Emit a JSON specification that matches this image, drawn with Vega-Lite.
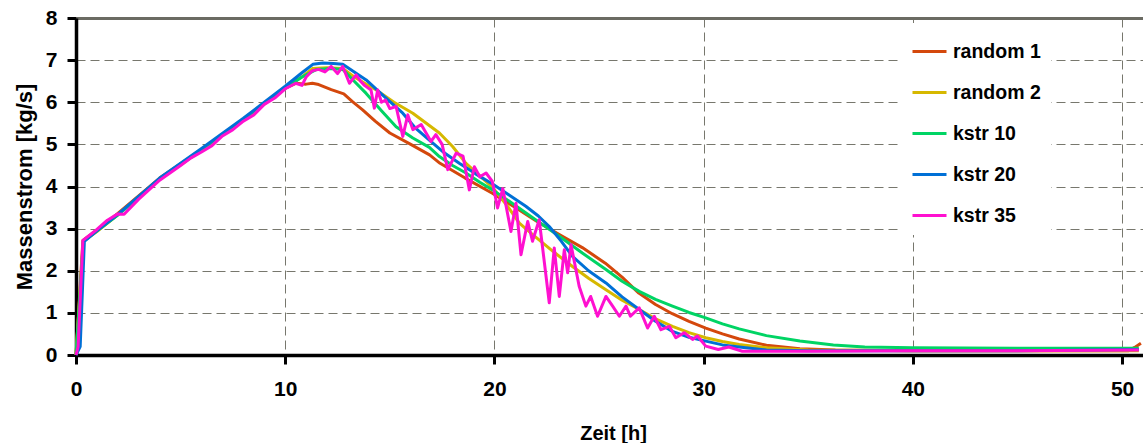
{
  "$schema": "https://vega.github.io/schema/vega-lite/v6.json",
  "width": 1067,
  "height": 337,
  "autosize": {"type": "none"},
  "padding": {"left": 76, "top": 18, "right": 0, "bottom": 88},
  "background": "white",
  "config": {"view": {"stroke": null}},
  "data": {
    "values": [
      {"serie": "random 1", "t": 0, "v": 0},
      {"serie": "random 1", "t": 0.33, "v": 2.72},
      {"serie": "random 1", "t": 1, "v": 2.97},
      {"serie": "random 1", "t": 2, "v": 3.36},
      {"serie": "random 1", "t": 4, "v": 4.2},
      {"serie": "random 1", "t": 6, "v": 4.88},
      {"serie": "random 1", "t": 8, "v": 5.6},
      {"serie": "random 1", "t": 9, "v": 5.98},
      {"serie": "random 1", "t": 10, "v": 6.33},
      {"serie": "random 1", "t": 10.5, "v": 6.45},
      {"serie": "random 1", "t": 11, "v": 6.43},
      {"serie": "random 1", "t": 11.3, "v": 6.45},
      {"serie": "random 1", "t": 11.6, "v": 6.42},
      {"serie": "random 1", "t": 12.2, "v": 6.3},
      {"serie": "random 1", "t": 12.8, "v": 6.2},
      {"serie": "random 1", "t": 13.2, "v": 6.02},
      {"serie": "random 1", "t": 13.7, "v": 5.82},
      {"serie": "random 1", "t": 14.3, "v": 5.55},
      {"serie": "random 1", "t": 15, "v": 5.27},
      {"serie": "random 1", "t": 16, "v": 5.0},
      {"serie": "random 1", "t": 16.9, "v": 4.75},
      {"serie": "random 1", "t": 17.4, "v": 4.55},
      {"serie": "random 1", "t": 18.6, "v": 4.2},
      {"serie": "random 1", "t": 19.9, "v": 3.84},
      {"serie": "random 1", "t": 21, "v": 3.5},
      {"serie": "random 1", "t": 22, "v": 3.18},
      {"serie": "random 1", "t": 23.1, "v": 2.86},
      {"serie": "random 1", "t": 24.2, "v": 2.55},
      {"serie": "random 1", "t": 25.3, "v": 2.18},
      {"serie": "random 1", "t": 26.1, "v": 1.85},
      {"serie": "random 1", "t": 26.9, "v": 1.47},
      {"serie": "random 1", "t": 27.7, "v": 1.2},
      {"serie": "random 1", "t": 28.5, "v": 0.98},
      {"serie": "random 1", "t": 29.3, "v": 0.8},
      {"serie": "random 1", "t": 30.1, "v": 0.64},
      {"serie": "random 1", "t": 30.9, "v": 0.5},
      {"serie": "random 1", "t": 31.7, "v": 0.38},
      {"serie": "random 1", "t": 33, "v": 0.23},
      {"serie": "random 1", "t": 34.6, "v": 0.15},
      {"serie": "random 1", "t": 36.3, "v": 0.12},
      {"serie": "random 1", "t": 40, "v": 0.1},
      {"serie": "random 1", "t": 45, "v": 0.1},
      {"serie": "random 1", "t": 50.3, "v": 0.1},
      {"serie": "random 1", "t": 50.6, "v": 0.18},
      {"serie": "random 1", "t": 50.9, "v": 0.28},

      {"serie": "random 2", "t": 0, "v": 0},
      {"serie": "random 2", "t": 0.35, "v": 2.7},
      {"serie": "random 2", "t": 1, "v": 2.93},
      {"serie": "random 2", "t": 2, "v": 3.33},
      {"serie": "random 2", "t": 4, "v": 4.17},
      {"serie": "random 2", "t": 6, "v": 4.86},
      {"serie": "random 2", "t": 8, "v": 5.58},
      {"serie": "random 2", "t": 9, "v": 5.96},
      {"serie": "random 2", "t": 10, "v": 6.35},
      {"serie": "random 2", "t": 10.8, "v": 6.6},
      {"serie": "random 2", "t": 11.3, "v": 6.8},
      {"serie": "random 2", "t": 12, "v": 6.82},
      {"serie": "random 2", "t": 12.75, "v": 6.8},
      {"serie": "random 2", "t": 13.3, "v": 6.6},
      {"serie": "random 2", "t": 14.35, "v": 6.29},
      {"serie": "random 2", "t": 15.2, "v": 6.0},
      {"serie": "random 2", "t": 16.1, "v": 5.74},
      {"serie": "random 2", "t": 17.37, "v": 5.27},
      {"serie": "random 2", "t": 18.0, "v": 4.95},
      {"serie": "random 2", "t": 18.64, "v": 4.55},
      {"serie": "random 2", "t": 19.3, "v": 4.25},
      {"serie": "random 2", "t": 19.91, "v": 3.98},
      {"serie": "random 2", "t": 20.6, "v": 3.55},
      {"serie": "random 2", "t": 21.19, "v": 3.13},
      {"serie": "random 2", "t": 21.83, "v": 2.86},
      {"serie": "random 2", "t": 22.9, "v": 2.42},
      {"serie": "random 2", "t": 23.73, "v": 2.1},
      {"serie": "random 2", "t": 24.5, "v": 1.82},
      {"serie": "random 2", "t": 25.33, "v": 1.55},
      {"serie": "random 2", "t": 26.1, "v": 1.3},
      {"serie": "random 2", "t": 26.92, "v": 1.08},
      {"serie": "random 2", "t": 27.7, "v": 0.86},
      {"serie": "random 2", "t": 28.51, "v": 0.68},
      {"serie": "random 2", "t": 29.3, "v": 0.53},
      {"serie": "random 2", "t": 30.1, "v": 0.41},
      {"serie": "random 2", "t": 30.9, "v": 0.32},
      {"serie": "random 2", "t": 31.7, "v": 0.25},
      {"serie": "random 2", "t": 33, "v": 0.17},
      {"serie": "random 2", "t": 35, "v": 0.12},
      {"serie": "random 2", "t": 40, "v": 0.1},
      {"serie": "random 2", "t": 50.8, "v": 0.1},

      {"serie": "kstr 10", "t": 0, "v": 0},
      {"serie": "kstr 10", "t": 0.35, "v": 2.7},
      {"serie": "kstr 10", "t": 1, "v": 2.95},
      {"serie": "kstr 10", "t": 2, "v": 3.32},
      {"serie": "kstr 10", "t": 4, "v": 4.18},
      {"serie": "kstr 10", "t": 6, "v": 4.87},
      {"serie": "kstr 10", "t": 8, "v": 5.58},
      {"serie": "kstr 10", "t": 9, "v": 5.97},
      {"serie": "kstr 10", "t": 10, "v": 6.33},
      {"serie": "kstr 10", "t": 10.8, "v": 6.6},
      {"serie": "kstr 10", "t": 11.5, "v": 6.78},
      {"serie": "kstr 10", "t": 12.2, "v": 6.8},
      {"serie": "kstr 10", "t": 12.75, "v": 6.78},
      {"serie": "kstr 10", "t": 13.3, "v": 6.5},
      {"serie": "kstr 10", "t": 13.87, "v": 6.21},
      {"serie": "kstr 10", "t": 14.6, "v": 5.8},
      {"serie": "kstr 10", "t": 15.3, "v": 5.42},
      {"serie": "kstr 10", "t": 16.1, "v": 5.15},
      {"serie": "kstr 10", "t": 16.89, "v": 4.93},
      {"serie": "kstr 10", "t": 17.37, "v": 4.71},
      {"serie": "kstr 10", "t": 18.0, "v": 4.5},
      {"serie": "kstr 10", "t": 18.64, "v": 4.32},
      {"serie": "kstr 10", "t": 19.3, "v": 4.1},
      {"serie": "kstr 10", "t": 19.91, "v": 3.92},
      {"serie": "kstr 10", "t": 21.0, "v": 3.55},
      {"serie": "kstr 10", "t": 22.0, "v": 3.2},
      {"serie": "kstr 10", "t": 23.1, "v": 2.82},
      {"serie": "kstr 10", "t": 24.2, "v": 2.42},
      {"serie": "kstr 10", "t": 25.33, "v": 2.03},
      {"serie": "kstr 10", "t": 26.1, "v": 1.75},
      {"serie": "kstr 10", "t": 26.92, "v": 1.51},
      {"serie": "kstr 10", "t": 27.7, "v": 1.32},
      {"serie": "kstr 10", "t": 28.51, "v": 1.16},
      {"serie": "kstr 10", "t": 29.3, "v": 1.01},
      {"serie": "kstr 10", "t": 30.1, "v": 0.88},
      {"serie": "kstr 10", "t": 30.9, "v": 0.74},
      {"serie": "kstr 10", "t": 31.7, "v": 0.62},
      {"serie": "kstr 10", "t": 33, "v": 0.46},
      {"serie": "kstr 10", "t": 34.6, "v": 0.33},
      {"serie": "kstr 10", "t": 36.2, "v": 0.24},
      {"serie": "kstr 10", "t": 37.7, "v": 0.19},
      {"serie": "kstr 10", "t": 40, "v": 0.17},
      {"serie": "kstr 10", "t": 45, "v": 0.16},
      {"serie": "kstr 10", "t": 50.8, "v": 0.16},

      {"serie": "kstr 20", "t": 0, "v": 0},
      {"serie": "kstr 20", "t": 0.2, "v": 0.2},
      {"serie": "kstr 20", "t": 0.4, "v": 2.7},
      {"serie": "kstr 20", "t": 1, "v": 2.95},
      {"serie": "kstr 20", "t": 2, "v": 3.34},
      {"serie": "kstr 20", "t": 4, "v": 4.2},
      {"serie": "kstr 20", "t": 6, "v": 4.9},
      {"serie": "kstr 20", "t": 8, "v": 5.62},
      {"serie": "kstr 20", "t": 9, "v": 6.0},
      {"serie": "kstr 20", "t": 10, "v": 6.38},
      {"serie": "kstr 20", "t": 10.8, "v": 6.7},
      {"serie": "kstr 20", "t": 11.32, "v": 6.9},
      {"serie": "kstr 20", "t": 11.8, "v": 6.93},
      {"serie": "kstr 20", "t": 12.3, "v": 6.92},
      {"serie": "kstr 20", "t": 12.75, "v": 6.9},
      {"serie": "kstr 20", "t": 13.3, "v": 6.72},
      {"serie": "kstr 20", "t": 13.87, "v": 6.53},
      {"serie": "kstr 20", "t": 14.7, "v": 6.15},
      {"serie": "kstr 20", "t": 15.62, "v": 5.74},
      {"serie": "kstr 20", "t": 16.2, "v": 5.4},
      {"serie": "kstr 20", "t": 16.89, "v": 5.1},
      {"serie": "kstr 20", "t": 17.6, "v": 4.8},
      {"serie": "kstr 20", "t": 18.32, "v": 4.55},
      {"serie": "kstr 20", "t": 19.1, "v": 4.3},
      {"serie": "kstr 20", "t": 19.91, "v": 4.06},
      {"serie": "kstr 20", "t": 20.7, "v": 3.8},
      {"serie": "kstr 20", "t": 21.5, "v": 3.53},
      {"serie": "kstr 20", "t": 22.1, "v": 3.3},
      {"serie": "kstr 20", "t": 22.62, "v": 3.05},
      {"serie": "kstr 20", "t": 23.2, "v": 2.7},
      {"serie": "kstr 20", "t": 23.73, "v": 2.34},
      {"serie": "kstr 20", "t": 24.5, "v": 2.0},
      {"serie": "kstr 20", "t": 25.33, "v": 1.71},
      {"serie": "kstr 20", "t": 26.1, "v": 1.38},
      {"serie": "kstr 20", "t": 26.92, "v": 1.08},
      {"serie": "kstr 20", "t": 27.7, "v": 0.8},
      {"serie": "kstr 20", "t": 28.51, "v": 0.56},
      {"serie": "kstr 20", "t": 29.3, "v": 0.42},
      {"serie": "kstr 20", "t": 30.1, "v": 0.33},
      {"serie": "kstr 20", "t": 30.9, "v": 0.24},
      {"serie": "kstr 20", "t": 31.7, "v": 0.19},
      {"serie": "kstr 20", "t": 33, "v": 0.12},
      {"serie": "kstr 20", "t": 35, "v": 0.1},
      {"serie": "kstr 20", "t": 45, "v": 0.1},
      {"serie": "kstr 20", "t": 50.8, "v": 0.13},

      {"serie": "kstr 35", "t": 0, "v": 0},
      {"serie": "kstr 35", "t": 0.1, "v": 0.2},
      {"serie": "kstr 35", "t": 0.33, "v": 2.72},
      {"serie": "kstr 35", "t": 1, "v": 2.98},
      {"serie": "kstr 35", "t": 1.5, "v": 3.2},
      {"serie": "kstr 35", "t": 2, "v": 3.35},
      {"serie": "kstr 35", "t": 2.3, "v": 3.34},
      {"serie": "kstr 35", "t": 3, "v": 3.7},
      {"serie": "kstr 35", "t": 4, "v": 4.15},
      {"serie": "kstr 35", "t": 5, "v": 4.5},
      {"serie": "kstr 35", "t": 5.5, "v": 4.68},
      {"serie": "kstr 35", "t": 6, "v": 4.82},
      {"serie": "kstr 35", "t": 6.5, "v": 4.97},
      {"serie": "kstr 35", "t": 7, "v": 5.2},
      {"serie": "kstr 35", "t": 7.5, "v": 5.35},
      {"serie": "kstr 35", "t": 8, "v": 5.55},
      {"serie": "kstr 35", "t": 8.5, "v": 5.7},
      {"serie": "kstr 35", "t": 9, "v": 5.95},
      {"serie": "kstr 35", "t": 9.5, "v": 6.1},
      {"serie": "kstr 35", "t": 10, "v": 6.32},
      {"serie": "kstr 35", "t": 10.5, "v": 6.45},
      {"serie": "kstr 35", "t": 10.8, "v": 6.4},
      {"serie": "kstr 35", "t": 11.0, "v": 6.6},
      {"serie": "kstr 35", "t": 11.3, "v": 6.75},
      {"serie": "kstr 35", "t": 11.6, "v": 6.78},
      {"serie": "kstr 35", "t": 11.9, "v": 6.72},
      {"serie": "kstr 35", "t": 12.2, "v": 6.85},
      {"serie": "kstr 35", "t": 12.5, "v": 6.68},
      {"serie": "kstr 35", "t": 12.75, "v": 6.85},
      {"serie": "kstr 35", "t": 13.07, "v": 6.45},
      {"serie": "kstr 35", "t": 13.39, "v": 6.65},
      {"serie": "kstr 35", "t": 13.6, "v": 6.5},
      {"serie": "kstr 35", "t": 13.79, "v": 6.4},
      {"serie": "kstr 35", "t": 14.1, "v": 6.29},
      {"serie": "kstr 35", "t": 14.26, "v": 5.86},
      {"serie": "kstr 35", "t": 14.42, "v": 6.29},
      {"serie": "kstr 35", "t": 14.6, "v": 6.0},
      {"serie": "kstr 35", "t": 14.8, "v": 6.05},
      {"serie": "kstr 35", "t": 15.0, "v": 5.85},
      {"serie": "kstr 35", "t": 15.3, "v": 5.9},
      {"serie": "kstr 35", "t": 15.62, "v": 5.19},
      {"serie": "kstr 35", "t": 15.86, "v": 5.7},
      {"serie": "kstr 35", "t": 16.1, "v": 5.35},
      {"serie": "kstr 35", "t": 16.5, "v": 5.47},
      {"serie": "kstr 35", "t": 16.97, "v": 5.07},
      {"serie": "kstr 35", "t": 17.2, "v": 5.23},
      {"serie": "kstr 35", "t": 17.5, "v": 5.0},
      {"serie": "kstr 35", "t": 17.77, "v": 4.4},
      {"serie": "kstr 35", "t": 18.17, "v": 4.79},
      {"serie": "kstr 35", "t": 18.5, "v": 4.72},
      {"serie": "kstr 35", "t": 18.8, "v": 3.92},
      {"serie": "kstr 35", "t": 19.04, "v": 4.47},
      {"serie": "kstr 35", "t": 19.3, "v": 4.23},
      {"serie": "kstr 35", "t": 19.6, "v": 4.32},
      {"serie": "kstr 35", "t": 19.9, "v": 4.12},
      {"serie": "kstr 35", "t": 20.15, "v": 3.49},
      {"serie": "kstr 35", "t": 20.4, "v": 3.95},
      {"serie": "kstr 35", "t": 20.79, "v": 2.93},
      {"serie": "kstr 35", "t": 21.03, "v": 3.6},
      {"serie": "kstr 35", "t": 21.27, "v": 2.38},
      {"serie": "kstr 35", "t": 21.59, "v": 3.17},
      {"serie": "kstr 35", "t": 21.82, "v": 2.7},
      {"serie": "kstr 35", "t": 22.14, "v": 3.21},
      {"serie": "kstr 35", "t": 22.62, "v": 1.24},
      {"serie": "kstr 35", "t": 22.86, "v": 2.54},
      {"serie": "kstr 35", "t": 23.1, "v": 1.39},
      {"serie": "kstr 35", "t": 23.34, "v": 2.5},
      {"serie": "kstr 35", "t": 23.5, "v": 1.95},
      {"serie": "kstr 35", "t": 23.66, "v": 2.62},
      {"serie": "kstr 35", "t": 24.05, "v": 1.63},
      {"serie": "kstr 35", "t": 24.37, "v": 1.16},
      {"serie": "kstr 35", "t": 24.6, "v": 1.39},
      {"serie": "kstr 35", "t": 24.93, "v": 0.92},
      {"serie": "kstr 35", "t": 25.33, "v": 1.39},
      {"serie": "kstr 35", "t": 25.65, "v": 1.16},
      {"serie": "kstr 35", "t": 25.97, "v": 0.92},
      {"serie": "kstr 35", "t": 26.29, "v": 1.16},
      {"serie": "kstr 35", "t": 26.5, "v": 0.92},
      {"serie": "kstr 35", "t": 26.92, "v": 1.12},
      {"serie": "kstr 35", "t": 27.32, "v": 0.64},
      {"serie": "kstr 35", "t": 27.64, "v": 0.92},
      {"serie": "kstr 35", "t": 27.96, "v": 0.6},
      {"serie": "kstr 35", "t": 28.36, "v": 0.68},
      {"serie": "kstr 35", "t": 28.67, "v": 0.41},
      {"serie": "kstr 35", "t": 29.07, "v": 0.53},
      {"serie": "kstr 35", "t": 29.47, "v": 0.37},
      {"serie": "kstr 35", "t": 29.7, "v": 0.45},
      {"serie": "kstr 35", "t": 30.1, "v": 0.21},
      {"serie": "kstr 35", "t": 30.7, "v": 0.13},
      {"serie": "kstr 35", "t": 31.2, "v": 0.19},
      {"serie": "kstr 35", "t": 31.85, "v": 0.09},
      {"serie": "kstr 35", "t": 35, "v": 0.09},
      {"serie": "kstr 35", "t": 40, "v": 0.1},
      {"serie": "kstr 35", "t": 45, "v": 0.1},
      {"serie": "kstr 35", "t": 50.8, "v": 0.12}
    ]
  },
  "mark": {"type": "line", "strokeWidth": 3, "strokeJoin": "round"},
  "encoding": {
    "x": {
      "field": "t",
      "type": "quantitative",
      "scale": {"domain": [0, 51], "nice": false, "zero": false},
      "axis": {
        "values": [0, 10, 20, 30, 40, 50],
        "title": "Zeit [h]",
        "titleX": 537,
        "labelFont": "Liberation Sans",
        "labelFontSize": 21,
        "labelFontWeight": "bold",
        "labelColor": "black",
        "labelFlush": false,
        "labelOverlap": false,
        "labelPadding": 14,
        "titleFont": "Liberation Sans",
        "titleFontSize": 20,
        "titleFontWeight": "bold",
        "titleColor": "black",
        "titlePadding": 24,
        "domainColor": "black",
        "domainWidth": 3.5,
        "ticks": true,
        "tickColor": "black",
        "tickWidth": 3,
        "tickSize": 9,
        "grid": true,
        "gridColor": "#77776d",
        "gridWidth": 1,
        "gridDash": [9, 5]
      }
    },
    "y": {
      "field": "v",
      "type": "quantitative",
      "scale": {"domain": [0, 8], "nice": false},
      "axis": {
        "values": [0, 1, 2, 3, 4, 5, 6, 7, 8],
        "title": "Massenstrom [kg/s]",
        "labelFont": "Liberation Sans",
        "labelFontSize": 21,
        "labelFontWeight": "bold",
        "labelColor": "black",
        "labelFlush": false,
        "labelOverlap": false,
        "labelPadding": 10,
        "titleFont": "Liberation Sans",
        "titleFontSize": 22,
        "titleFontWeight": "bold",
        "titleColor": "black",
        "titlePadding": 9,
        "domainColor": "black",
        "domainWidth": 3.5,
        "ticks": true,
        "tickColor": "black",
        "tickWidth": 3,
        "tickSize": 9,
        "grid": true,
        "gridDash": {"condition": {"test": "datum.value === 8", "value": []}, "value": [9, 5]},
        "gridWidth": {"condition": {"test": "datum.value === 8", "value": 3}, "value": 1},
        "gridColor": {"condition": {"test": "datum.value === 8", "value": "#6b6b63"}, "value": "#77776d"}
      }
    },
    "color": {
      "field": "serie",
      "type": "nominal",
      "sort": ["random 1", "random 2", "kstr 10", "kstr 20", "kstr 35"],
      "scale": {
        "domain": ["random 1", "random 2", "kstr 10", "kstr 20", "kstr 35"],
        "range": ["#d4480c", "#d6b800", "#00d464", "#0070d6", "#ff10d0"]
      },
      "legend": {
        "title": null,
        "orient": "none",
        "legendX": 825,
        "legendY": 5,
        "fillColor": "white",
        "padding": 10,
        "symbolType": "stroke",
        "symbolSize": 1156,
        "symbolStrokeWidth": 3,
        "labelFont": "Liberation Sans",
        "labelFontSize": 19.5,
        "labelFontWeight": "bold",
        "labelColor": "black",
        "labelOffset": 5,
        "rowPadding": 13
      }
    }
  }
}
